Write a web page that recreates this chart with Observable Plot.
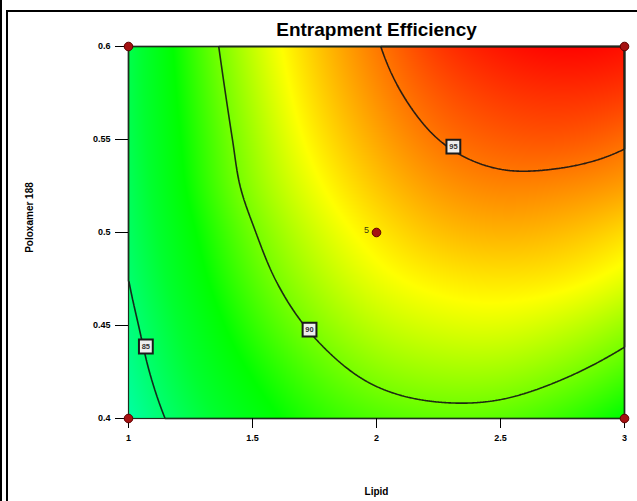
<!DOCTYPE html>
<html>
<head>
<meta charset="utf-8">
<script src="https://cdn.jsdelivr.net/npm/d3@7"></script>
<script src="https://cdn.jsdelivr.net/npm/@observablehq/plot@0.6"></script>
<style>
  body { margin: 0; background: #fff; }
  #wrap { position: relative; width: 637px; height: 501px; overflow: hidden; background: #fff; }
  .b { position: absolute; background: #000; }
  #chart { position: absolute; left: 0; top: 0; }
  g[aria-label="chart-title"] text { letter-spacing: -0.9px; }
  g[aria-label$="tick label"] text { font-weight: bold; }
</style>
</head>
<body>
<div id="wrap">
  <div id="chart"></div>
  <div class="b" style="left:0;top:0;width:2px;height:501px"></div>
  <div class="b" style="left:6px;top:10px;width:2px;height:491px"></div>
  <div class="b" style="left:6px;top:10px;width:631px;height:2px"></div>
</div>
<script>
// ---- data ----
const titleText = "Entrapment Efficiency";
const xLabel = "Lipid";
const yLabel = "Poloxamer 188";

const xTicks = [1, 1.5, 2, 2.5, 3];
const yTicks = [0.4, 0.45, 0.5, 0.55, 0.6];

// grid of estimated response values (Entrapment Efficiency, %)
const lipidLevels = [1, 1.25, 1.5, 1.75, 2, 2.25, 2.5, 2.75, 3];
const poloxamerLevels = [0.4, 0.425, 0.45, 0.475, 0.5, 0.525, 0.55, 0.575, 0.6];
// rows follow poloxamerLevels, columns follow lipidLevels
const efficiency = [
  [83.7, 85.8, 87.4, 88.6, 89.3, 89.6, 89.5, 88.9, 87.9],
  [84.2, 86.4, 88.1, 89.4, 90.3, 90.7, 90.7, 90.2, 89.3],
  [84.6, 86.9, 88.8, 90.2, 91.2, 91.7, 91.8, 91.4, 90.6],
  [85.0, 87.4, 89.4, 90.9, 92.0, 92.6, 92.8, 92.6, 91.9],
  [85.3, 87.8, 89.9, 91.5, 92.7, 93.5, 93.8, 93.6, 93.0],
  [85.5, 88.2, 90.4, 92.1, 93.4, 94.3, 94.7, 94.6, 94.2],
  [85.7, 88.4, 90.7, 92.6, 94.0, 95.0, 95.5, 95.6, 95.2],
  [85.8, 88.6, 91.0, 93.0, 94.5, 95.6, 96.2, 96.4, 96.2],
  [85.8, 88.8, 91.3, 93.3, 94.9, 96.2, 96.9, 97.2, 97.0]
];

const contourLevels = [85, 90, 95];
const contourLabelLipid = [1.07, 1.73, 2.31];
const contourLabelPoloxamer = [0.4387, 0.4478, 0.5462];

const designLipid = [1, 3, 1, 3, 2];
const designPoloxamer = [0.4, 0.4, 0.6, 0.6, 0.5];
const designReplicates = ["", "", "", "", "5"];

const colorStops = [81.5, 86.5, 88, 92.3, 97.3];
const colorRange = ["#00ffff", "#00ff30", "#00ff00", "#ffff00", "#ff0000"];

// ---- tables built from the arrays ----
const grid = poloxamerLevels.flatMap((p, i) =>
  lipidLevels.map((l, j) => ({lipid: l, poloxamer: p, ee: efficiency[i][j]})));
const contourLabels = contourLevels.map((lv, i) =>
  ({level: lv, lipid: contourLabelLipid[i], poloxamer: contourLabelPoloxamer[i]}));
const design = designLipid.map((l, i) =>
  ({lipid: l, poloxamer: designPoloxamer[i], n: designReplicates[i]}));

// smooth (cubic) interpolator over the regular sample grid, handed to Plot
function cubicGrid(index, width, height, X, Y, V) {
  const nx = lipidLevels.length, ny = poloxamerLevels.length;
  let x0 = Infinity, x1 = -Infinity, y0 = Infinity, y1 = -Infinity;
  for (const i of index) {
    if (X[i] < x0) x0 = X[i]; if (X[i] > x1) x1 = X[i];
    if (Y[i] < y0) y0 = Y[i]; if (Y[i] > y1) y1 = Y[i];
  }
  const G = Array.from({length: ny}, () => new Array(nx).fill(NaN));
  for (const i of index) {
    const c = Math.round((X[i] - x0) / (x1 - x0) * (nx - 1));
    const r = Math.round((Y[i] - y0) / (y1 - y0) * (ny - 1));
    G[r][c] = V[i];
  }
  const at = (r, c) => {
    if (r < 0) return 3 * at(0, c) - 3 * at(1, c) + at(2, c);
    if (r > ny - 1) return 3 * at(ny - 1, c) - 3 * at(ny - 2, c) + at(ny - 3, c);
    if (c < 0) return 3 * at(r, 0) - 3 * at(r, 1) + at(r, 2);
    if (c > nx - 1) return 3 * at(r, nx - 1) - 3 * at(r, nx - 2) + at(r, nx - 3);
    return G[r][c];
  };
  const cr = (p0, p1, p2, p3, t) =>
    p1 + 0.5 * t * (p2 - p0 + t * (2 * p0 - 5 * p1 + 4 * p2 - p3 + t * (3 * (p1 - p2) + p3 - p0)));
  const out = new Float64Array(width * height);
  for (let py = 0; py < height; ++py) {
    const v = Math.max(0, Math.min(ny - 1, (py + 0.5 - y0) / (y1 - y0) * (ny - 1)));
    const r = Math.min(ny - 2, Math.floor(v)), ty = v - r;
    for (let px = 0; px < width; ++px) {
      const u = Math.max(0, Math.min(nx - 1, (px + 0.5 - x0) / (x1 - x0) * (nx - 1)));
      const c = Math.min(nx - 2, Math.floor(u)), tx = u - c;
      const q = [];
      for (let k = -1; k <= 2; ++k) q.push(cr(at(r + k, c - 1), at(r + k, c), at(r + k, c + 1), at(r + k, c + 2), tx));
      out[py * width + px] = cr(q[0], q[1], q[2], q[3], ty);
    }
  }
  return out;
}

const font = "'Liberation Sans', Arial, sans-serif";
const fmt = d => String(d);

const plot = Plot.plot({
  width: 637,
  height: 501,
  marginLeft: 128,
  marginRight: 13,
  marginTop: 46,
  marginBottom: 83,
  style: {background: "transparent", fontFamily: font, overflow: "visible", color: "#000"},
  x: {domain: [1, 3], label: null},
  y: {domain: [0.4, 0.6], label: null},
  color: {type: "linear", domain: colorStops, range: colorRange, clamp: true},
  marks: [
    Plot.raster(grid, {
      x: "lipid", y: "poloxamer", fill: "ee",
      interpolate: cubicGrid,
      x1: 1, x2: 3, y1: 0.4, y2: 0.6, pixelSize: 1
    }),
    Plot.contour(grid, {
      x: "lipid", y: "poloxamer", value: "ee",
      interpolate: cubicGrid,
      x1: 1, x2: 3, y1: 0.4, y2: 0.6, pixelSize: 1,
      thresholds: contourLevels,
      fill: "none", stroke: "#141414", strokeWidth: 1.6, strokeOpacity: 0.9
    }),
    Plot.frame({stroke: "#1d2e1d", strokeWidth: 1.2}),
    Plot.axisX({ticks: xTicks, tickFormat: fmt, tickSize: 10, tickPadding: 6, fontSize: 9, label: null}),
    Plot.axisY({ticks: yTicks, tickFormat: fmt, tickSize: 13, tickPadding: 5, fontSize: 9, label: null}),
    Plot.dot(contourLabels, {
      x: "lipid", y: "poloxamer", symbol: "square", r: 7.8,
      fill: "#eeeeee", stroke: "#1a1a1a", strokeWidth: 2
    }),
    Plot.text(contourLabels, {
      x: "lipid", y: "poloxamer", text: d => String(d.level),
      fontSize: 7.5, fill: "#333", fontWeight: "bold"
    }),
    Plot.dot(design, {
      x: "lipid", y: "poloxamer", r: 4.3,
      fill: "#a51212", stroke: "#5c0000", strokeWidth: 1
    }),
    Plot.text(design, {
      x: "lipid", y: "poloxamer", text: "n",
      dx: -10, dy: -2, fontSize: 9, fill: "#3a3a10"
    }),
    Plot.text([titleText], {
      text: d => d, frameAnchor: "top", lineAnchor: "middle", dy: -17,
      fontSize: 19, fontWeight: "bold", ariaLabel: "chart-title"
    }),
    Plot.text([xLabel], {
      text: d => d, frameAnchor: "bottom", lineAnchor: "middle", dy: 73,
      fontSize: 10, fontWeight: "bold"
    }),
    Plot.text([yLabel], {
      text: d => d, frameAnchor: "left", textAnchor: "middle", lineAnchor: "middle",
      dx: -99, dy: -15, rotate: -90,
      fontSize: 10, fontWeight: "bold"
    })
  ]
});
document.getElementById("chart").appendChild(plot);
</script>
</body>
</html>
